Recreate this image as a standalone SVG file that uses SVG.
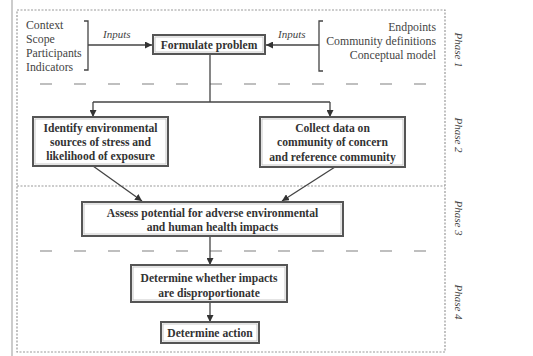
<svg xmlns="http://www.w3.org/2000/svg" width="533" height="356" viewBox="0 0 533 356">
<defs>
<marker id="ah" viewBox="0 0 10 10" refX="10" refY="5" markerWidth="7" markerHeight="7" orient="auto" markerUnits="userSpaceOnUse">
<path d="M0,0 L10,5 L0,10 z" fill="#333"/>
</marker>
<style>
.box{fill:#fff;stroke:#555;stroke-width:2}
.boxin{fill:none;stroke:#bbb;stroke-width:0.8}
.bt{font-family:"Liberation Serif",serif;font-weight:bold;font-size:11.6px;fill:#333;text-anchor:middle}
.it{font-family:"Liberation Serif",serif;font-size:11.8px;fill:#444}
.inp{font-family:"Liberation Serif",serif;font-style:italic;font-size:11px;fill:#444}
.ph{font-family:"Liberation Serif",serif;font-style:italic;font-size:11px;fill:#444;text-anchor:middle}
.con{fill:none;stroke:#444;stroke-width:1.3}
.dash{stroke:#aaa;stroke-width:1.5;stroke-dasharray:12 22}
.dot{fill:none;stroke:#999;stroke-width:1.2;stroke-dasharray:2 1.5}
</style>
</defs>
<rect width="533" height="356" fill="#fff"/>
<g id="frame">
<line x1="12" y1="0" x2="12" y2="356" stroke="#ccc" stroke-width="2"/>
<rect class="dot" x="17" y="10" width="428" height="342"/>
<line class="dot" x1="17" y1="186" x2="445" y2="186"/>
<line class="dash" x1="40" y1="84" x2="440" y2="84"/>
<line class="dash" x1="40" y1="251" x2="440" y2="251"/>
</g>
<g id="phases">
<text class="ph" transform="translate(455,50) rotate(90)">Phase 1</text>
<text class="ph" transform="translate(455,135) rotate(90)">Phase 2</text>
<text class="ph" transform="translate(455,218) rotate(90)">Phase 3</text>
<text class="ph" transform="translate(455,302) rotate(90)">Phase 4</text>
</g>
<g id="inputs-left">
<text class="it" x="26" y="29">Context</text>
<text class="it" x="26" y="43">Scope</text>
<text class="it" x="26" y="57">Participants</text>
<text class="it" x="26" y="71">Indicators</text>
<path class="con" d="M84,21 H88 V70 H84"/>
<text class="inp" x="103" y="38">Inputs</text>
</g>
<g id="inputs-right">
<text class="it" x="436" y="31" text-anchor="end">Endpoints</text>
<text class="it" x="436" y="45" text-anchor="end">Community definitions</text>
<text class="it" x="436" y="59" text-anchor="end">Conceptual model</text>
<path class="con" d="M323,21 H319 V71 H323"/>
<text class="inp" x="278" y="38">Inputs</text>
</g>
<g id="connectors">
<line class="con" x1="88" y1="45" x2="152" y2="45" marker-end="url(#ah)"/>
<line class="con" x1="319" y1="45" x2="266" y2="45" marker-end="url(#ah)"/>
<line class="con" x1="210" y1="54" x2="210" y2="102"/>
<line class="con" x1="93" y1="102" x2="330" y2="102"/>
<line class="con" x1="93" y1="102" x2="93" y2="117" marker-end="url(#ah)"/>
<line class="con" x1="330" y1="102" x2="330" y2="117" marker-end="url(#ah)"/>
<line class="con" x1="93" y1="166" x2="142" y2="201" marker-end="url(#ah)"/>
<line class="con" x1="335" y1="167" x2="282" y2="201" marker-end="url(#ah)"/>
<line class="con" x1="210" y1="236" x2="210" y2="265" marker-end="url(#ah)"/>
<line class="con" x1="210" y1="302" x2="210" y2="322" marker-end="url(#ah)"/>
</g>
<g id="formulate">
<rect class="box" x="153" y="35" width="112" height="19"/>
<rect class="boxin" x="155" y="37" width="108" height="15"/>
<text class="bt" x="209" y="49">Formulate problem</text>
</g>
<g id="identify">
<rect class="box" x="33" y="117" width="135" height="49"/>
<rect class="boxin" x="35" y="119" width="131" height="45"/>
<text class="bt" x="100.5" y="132">Identify environmental</text>
<text class="bt" x="100.5" y="146">sources of stress and</text>
<text class="bt" x="100.5" y="160">likelihood of exposure</text>
</g>
<g id="collect">
<rect class="box" x="260" y="117" width="145" height="50"/>
<rect class="boxin" x="262" y="119" width="141" height="46"/>
<text class="bt" x="332.5" y="132">Collect data on</text>
<text class="bt" x="332.5" y="146">community of concern</text>
<text class="bt" x="332.5" y="161">and reference community</text>
</g>
<g id="assess">
<rect class="box" x="82" y="202" width="261" height="34"/>
<rect class="boxin" x="84" y="204" width="257" height="30"/>
<text class="bt" x="212.5" y="217">Assess potential for adverse environmental</text>
<text class="bt" x="212.5" y="231">and human health impacts</text>
</g>
<g id="disproportionate">
<rect class="box" x="131" y="265" width="156" height="37"/>
<rect class="boxin" x="133" y="267" width="152" height="33"/>
<text class="bt" x="209" y="282">Determine whether impacts</text>
<text class="bt" x="209" y="297">are disproportionate</text>
</g>
<g id="action">
<rect class="box" x="161" y="322" width="98" height="21"/>
<rect class="boxin" x="163" y="324" width="94" height="17"/>
<text class="bt" x="210" y="337">Determine action</text>
</g>
</svg>
